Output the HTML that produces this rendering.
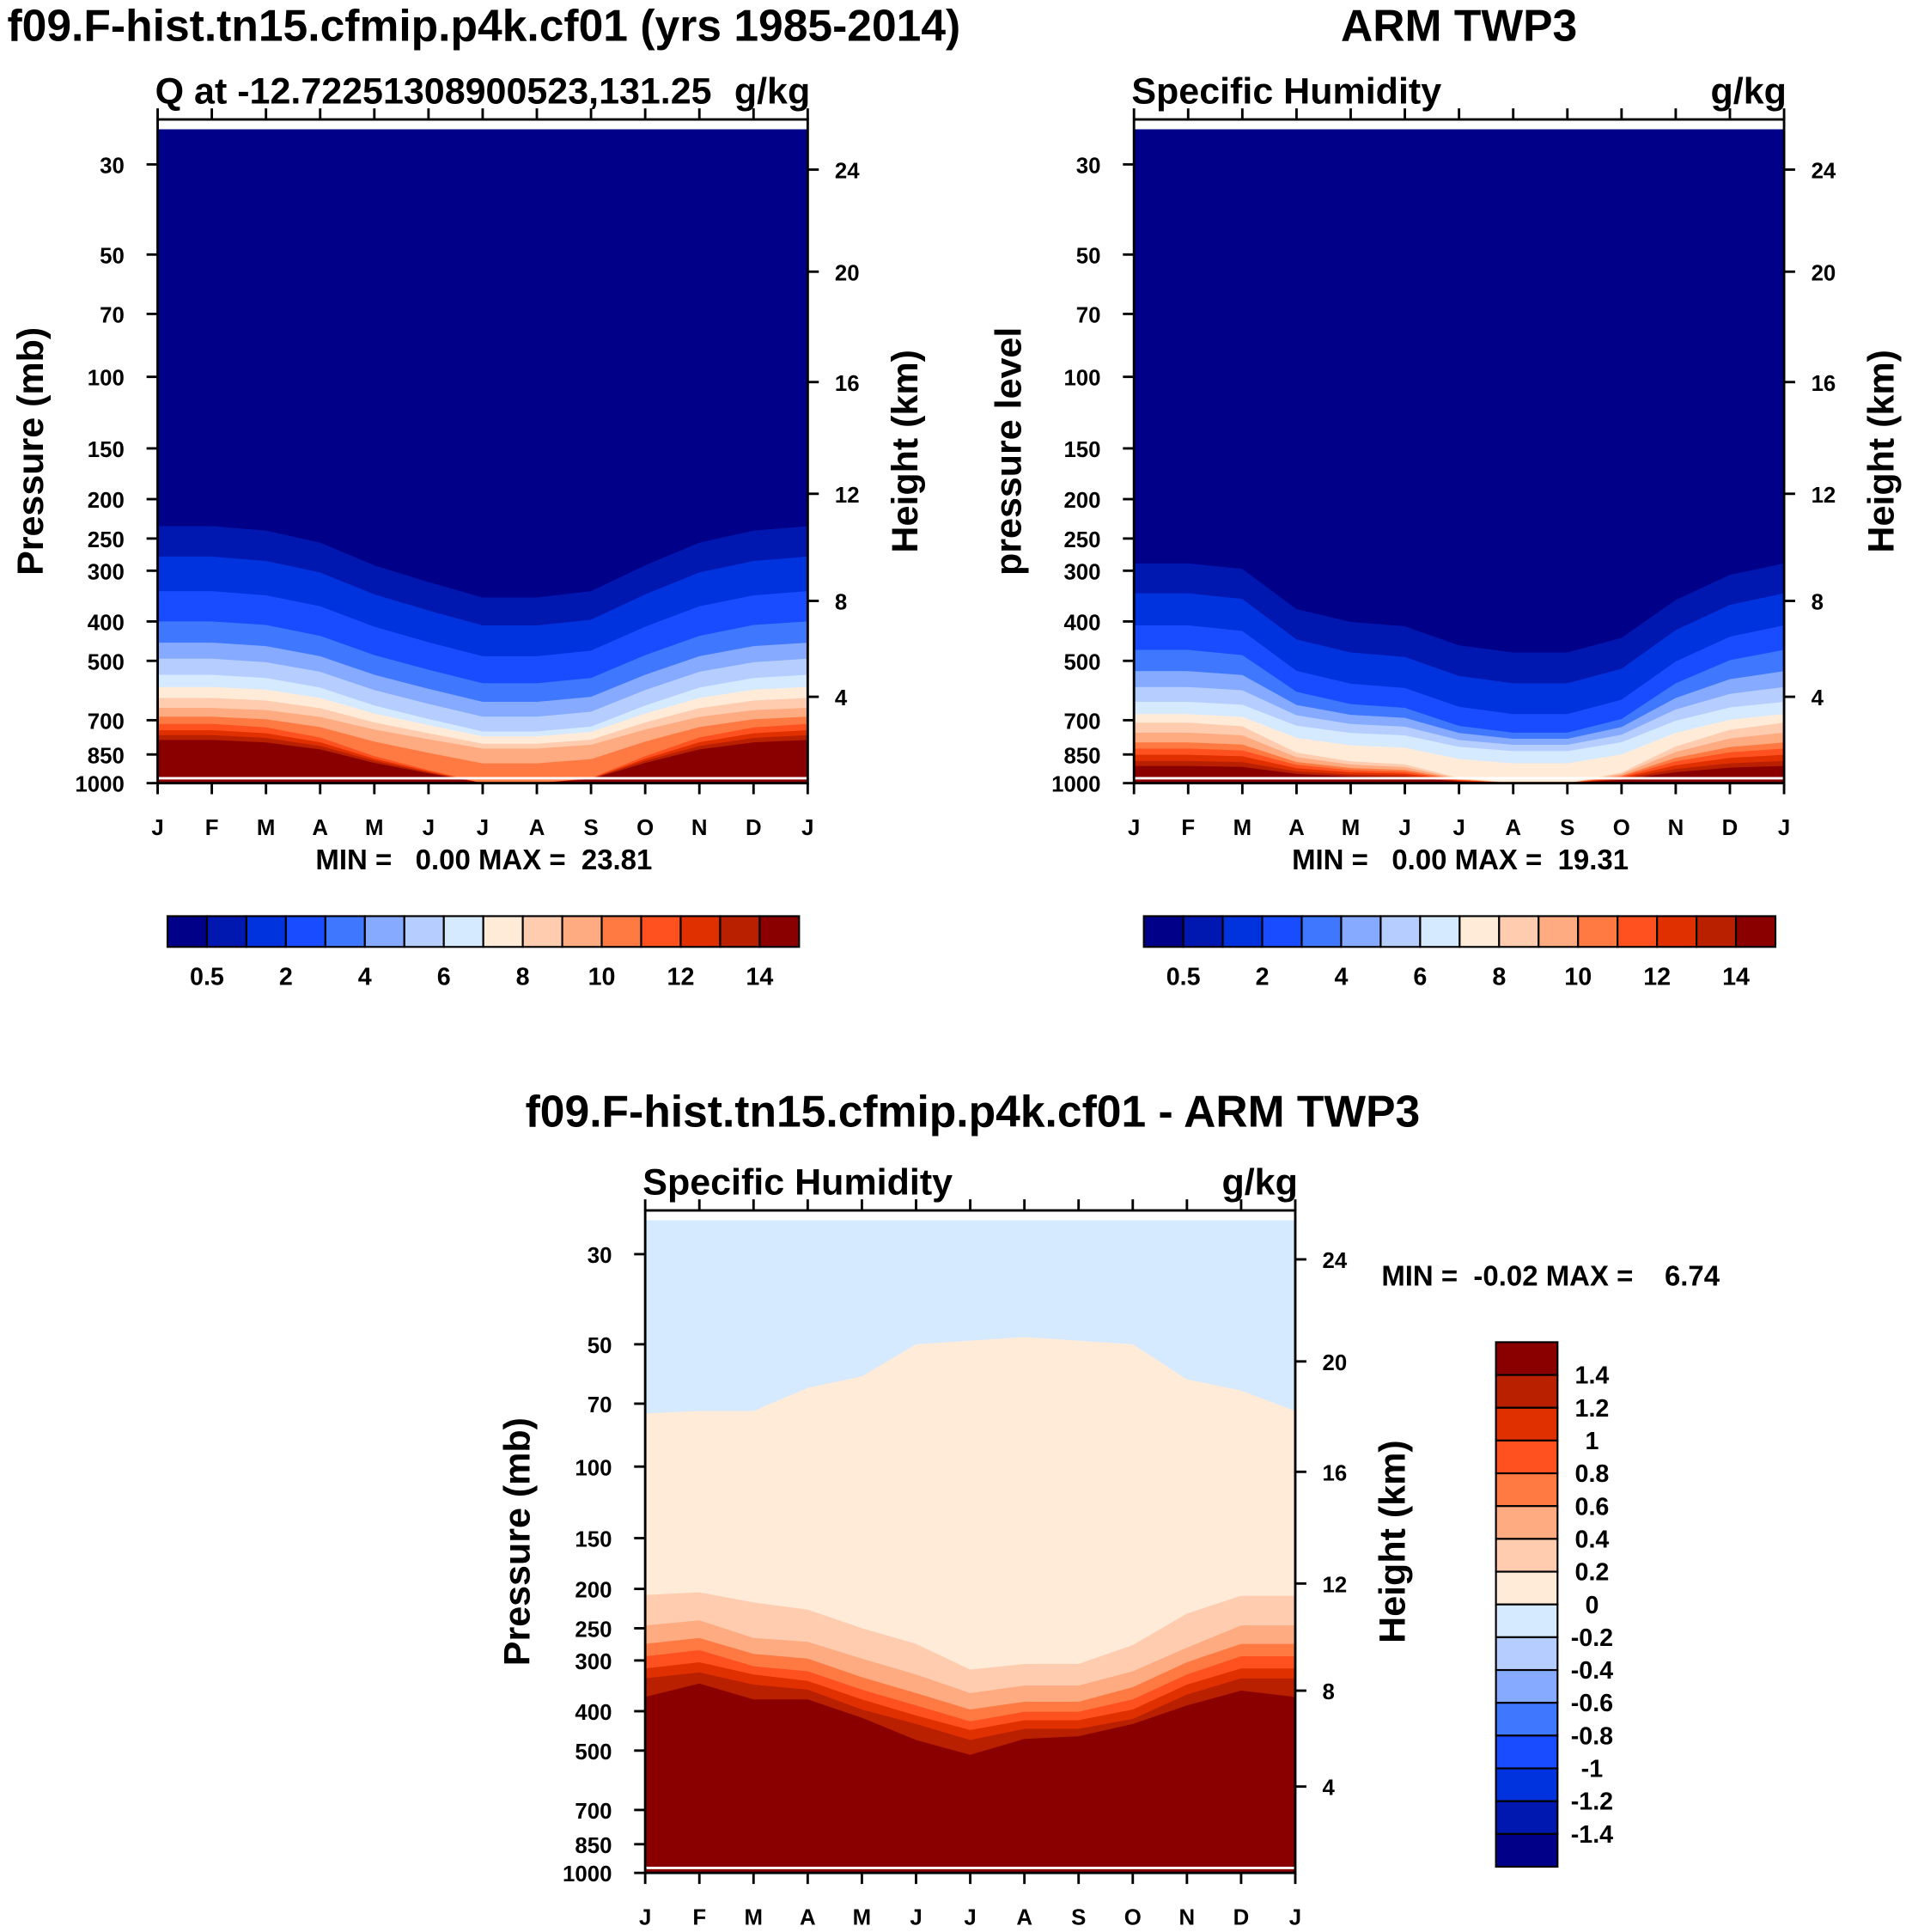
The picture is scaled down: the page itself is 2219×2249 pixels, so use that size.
<!DOCTYPE html>
<html><head><meta charset="utf-8"><style>
html,body{margin:0;padding:0;background:#fff;}
svg{display:block;}
text{font-family:"Liberation Sans",Arial,sans-serif;font-weight:bold;fill:#000;white-space:pre;}
</style></head><body>
<svg id="fig" width="2219" height="2249" viewBox="0 0 1548 1569" xmlns="http://www.w3.org/2000/svg">
<rect x="0" y="0" width="1548" height="1569" fill="#fff"/>
</svg>
<script>
// ---------- data ----------
const months = ["J","F","M","A","M","J","J","A","S","O","N","D","J"];
const pressureTicks = [30,50,70,100,150,200,250,300,400,500,700,850,1000];
const heightTickLabels = [24,20,16,12,8,4];
const heightTickPressures = [30.9,55.1,103,194,356,613];
const qLevels = [0.5,1,2,3,4,5,6,7,8,9,10,11,12,13,14];
const qLabels = ["0.5","2","4","6","8","10","12","14"];
const diffLevels = [-1.4,-1.2,-1,-0.8,-0.6,-0.4,-0.2,0,0.2,0.4,0.6,0.8,1,1.2,1.4];
const diffLabels = ["1.4","1.2","1","0.8","0.6","0.4","0.2","0","-0.2","-0.4","-0.6","-0.8","-1","-1.2","-1.4"];
const palette = ["#000088","#0018B0","#0033DD","#1A4CFF","#3F78FF","#85AAFF","#B6CEFF","#D6EAFF","#FFEBD8","#FFCCB0","#FFAB82","#FF7A43","#FF5020","#E03000","#B82000","#8A0000"];
// pressure (hPa) where Q crosses each level, per month
const modelQ = [
 [233,233,239,256,291,320,349,349,337,291,256,239,233],
 [277,277,284,303,343,376,409,409,396,343,303,284,277],
 [337,337,345,367,412,450,487,487,472,412,367,345,337],
 [400,400,408,434,484,526,568,568,551,484,434,408,400],
 [451,451,460,487,541,586,631,631,613,541,487,460,451],
 [494,494,504,532,590,638,686,686,667,590,532,504,494],
 [541,541,551,582,644,695,746,746,726,644,582,551,541],
 [580,580,589,617,674,720,767,767,748,674,617,589,580],
 [617,617,626,654,709,754,800,800,782,709,654,626,617],
 [653,653,661,687,738,780,822,822,805,738,687,661,653],
 [686,686,696,728,790,842,894,894,873,790,728,696,686],
 [715,715,729,772,858,929,1000,1000,972,858,772,729,715],
 [741,741,754,793,871,935,1000,1000,974,871,793,754,741],
 [762,762,774,810,881,941,1000,1000,976,881,810,774,762],
 [783,783,794,826,892,946,1000,1000,978,892,826,794,783]
];
const obsQ = [
 [288,288,297,373,401,411,458,477,477,439,354,307,288],
 [341,341,352,443,477,489,545,568,568,523,420,364,341],
 [409,409,422,529,569,583,649,676,676,623,502,436,409],
 [470,470,484,596,639,653,723,751,751,695,568,498,470],
 [530,530,542,642,679,691,753,778,778,728,617,555,530],
 [580,580,591,681,715,726,783,805,805,760,659,603,580],
 [631,631,641,722,753,763,814,834,834,793,702,651,631],
 [676,676,687,774,807,818,872,894,894,850,752,698,676],
 [710,710,725,841,884,899,971,1000,1000,942,812,739,710],
 [751,751,763,863,900,913,975,1000,1000,950,838,776,751],
 [794,794,804,887,918,928,979,1000,1000,959,866,815,794],
 [822,822,831,902,929,938,982,1000,1000,964,884,840,822],
 [852,852,859,919,941,948,985,1000,1000,970,904,867,852],
 [882,882,888,935,953,959,988,1000,1000,976,923,894,882],
 [907,907,912,949,963,967,991,1000,1000,981,940,916,907]
];
// difference crossings for levels 0 .. 1.4 (levels below 0 not crossed)
const diffQ = [
 [74,73,73,64,60,50,49,48,49,50,61,65,73],
 [207,204,216,225,250,273,316,306,306,275,230,208,208],
 [246,239,264,270,297,325,361,346,346,319,279,246,246],
 [273,264,289,297,330,361,396,379,379,349,303,273,273],
 [293,283,310,319,354,387,424,401,401,374,325,293,293],
 [314,303,325,337,374,410,445,421,421,396,344,314,314],
 [332,321,344,354,396,430,471,442,442,418,364,332,332],
 [369,342,374,374,415,471,512,468,461,430,387,356,369]
];
const diffFirstLevelIndex = 7;

// ---------- helpers ----------
const NS="http://www.w3.org/2000/svg";
const svg=document.getElementById('fig');
function mk(tag,attrs,parent){const e=document.createElementNS(NS,tag);for(const k in attrs)e.setAttribute(k,attrs[k]);(parent||svg).appendChild(e);return e;}
function txt(s,x,y,size,anchor,parent){const t=mk('text',{x:x,y:y,'font-size':size,'text-anchor':anchor||'start'},parent);t.textContent=s;return t;}

function plot(opt){
  const g=mk('g',{});
  
  
  const x0=opt.x0,x1=opt.x1,yb=opt.yb,ytop=opt.yt;
  const k=143.3;
  const yP=p=>yb-Math.log(1000/p)*k;
  const xM=i=>x0+(x1-x0)*i/(months.length-1);
  const pTop=1000*Math.exp(-(yb-(ytop+8))/k);
  const bg=mk('rect',{x:x0,y:yP(pTop),width:x1-x0,height:yb-yP(pTop),fill:palette[opt.bgIndex]},g);
  
  
  opt.bands.forEach((arr,j)=>{
    let d='M'+x0+','+yb;
    arr.forEach((p,i)=>{d+=' L'+xM(i).toFixed(1)+','+yP(Math.min(p,1000)).toFixed(1);});
    d+=' L'+x1+','+yb+' Z';
    const pa=mk('path',{d:d,fill:palette[opt.bgIndex+1+j]},g);
    
    
  });
  mk('line',{x1:x0,x2:x1,y1:yb-4,y2:yb-4,stroke:'#fff','stroke-width':2},g);
  const fr=mk('rect',{x:x0,y:ytop,width:x1-x0,height:yb-ytop,fill:'none',stroke:'#000','stroke-width':2},g);
  
  
  months.forEach((m,i)=>{
    const x=xM(i);
    mk('line',{x1:x,x2:x,y1:ytop,y2:ytop-9,stroke:'#000','stroke-width':2},g);
    mk('line',{x1:x,x2:x,y1:yb,y2:yb+9,stroke:'#000','stroke-width':2},g);
    const t=txt(m,x,yb+42,18,'middle',g);
    
    
  });
  pressureTicks.forEach(p=>{
    const y=yP(p);
    mk('line',{x1:x0,x2:x0-9,y1:y,y2:y,stroke:'#000','stroke-width':2},g);
    const t=txt(String(p),x0-27,y+7,18,'end',g);
    
    
  });
  heightTickLabels.forEach((h,i)=>{
    const y=yP(heightTickPressures[i]);
    mk('line',{x1:x1,x2:x1+9,y1:y,y2:y,stroke:'#000','stroke-width':2},g);
    const t=txt(String(h),x1+22,y+7,18,'start',g);
    
    
  });
  const yc=(ytop+yb)/2;
  const yl=txt(opt.ylabel,0,0,30,'middle',g);
  yl.setAttribute('transform','translate('+opt.ylabelX+','+yc+') rotate(-90)');
  
  
  const hl=txt('Height (km)',0,0,30,'middle',g);
  hl.setAttribute('transform','translate('+(x1+89)+','+yc+') rotate(-90)');
  
  
  const st=txt(opt.sub,x0-2,ytop-13,30,'start',g);
  
  
  const un=txt('g/kg',x1+2,ytop-13,30,'end',g);
  
  
  const tt=txt(opt.title,opt.titleX,opt.titleY,36,'middle',g);
  
  
}

function hbar(x0,y0,x1,y1,name){
  const g=mk('g',{});
  
  
  const w=(x1-x0)/palette.length;
  palette.forEach((c,i)=>{
    const r=mk('rect',{x:x0+i*w,y:y0,width:w,height:y1-y0,fill:c,stroke:'#000','stroke-width':1.5},g);
    
    
  });
  qLabels.forEach((l,i)=>{
    const t=txt(l,x0+w*(1+2*i),y1+31,20,'middle',g);
    
    
  });
}

plot({name:'model-plot',x0:128,x1:656,yt:97,yb:636,bgIndex:0,bands:modelQ,
  ylabel:'Pressure (mb)',ylabelX:35,sub:'Q at -12.72251308900523,131.25',
  title:'f09.F-hist.tn15.cfmip.p4k.cf01 (yrs 1985-2014)',titleX:393,titleY:33});
plot({name:'obs-plot',x0:921,x1:1449,yt:97,yb:636,bgIndex:0,bands:obsQ,
  ylabel:'pressure level',ylabelX:829,sub:'Specific Humidity',
  title:'ARM TWP3',titleX:1185,titleY:33});
plot({name:'diff-plot',x0:524,x1:1052,yt:983,yb:1521,bgIndex:diffFirstLevelIndex,bands:diffQ,
  ylabel:'Pressure (mb)',ylabelX:430,sub:'Specific Humidity',
  title:'f09.F-hist.tn15.cfmip.p4k.cf01 - ARM TWP3',titleX:790,titleY:915});

let m1=txt('MIN =   0.00 MAX =  23.81',393,706,23,'middle');


let m2=txt('MIN =   0.00 MAX =  19.31',1186,706,23,'middle');


let m3=txt('MIN =  -0.02 MAX =    6.74',1122,1044,23,'start');



hbar(136,744,649,769,'model-colorbar');
hbar(929,744,1442,769,'obs-colorbar');

(function(){
  const g=mk('g',{});
  
  
  const x0=1215,x1=1265,y0=1090,y1=1516;
  const h=(y1-y0)/palette.length;
  for(let i=0;i<palette.length;i++){
    const r=mk('rect',{x:x0,y:y0+i*h,width:x1-x0,height:h,fill:palette[palette.length-1-i],stroke:'#000','stroke-width':1.5},g);
    
    
  }
  diffLabels.forEach((l,i)=>{
    const t=txt(l,1293,y0+h*(i+1)+7,20,'middle',g);
    
    
  });
})();
</script>
</body></html>
